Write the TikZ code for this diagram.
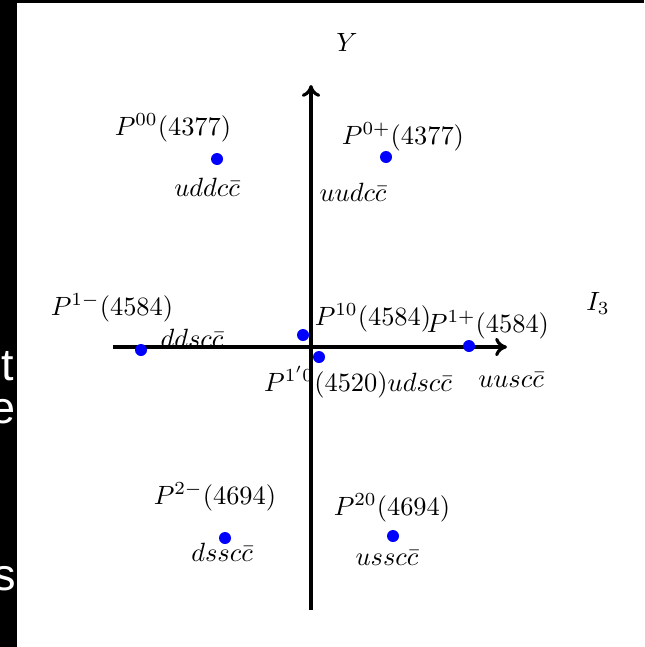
\documentclass[tikz,border=0pt]{standalone}
\usepackage{amsmath}
\usepackage{fontspec}
\newfontfamily\sidefont{Liberation Sans}
\usetikzlibrary{arrows.meta}

\begin{document}
\begin{tikzpicture}[x=0.0133cm, y=-0.0133cm, line join=round, >={To[length=4.5pt,width=7pt]}]
  % ========================================================
  % 0. FRAME: page, black strips and cut-off side text
  % ========================================================
  \useasboundingbox (0,0) rectangle (644,647);
  \fill[white] (0,0) rectangle (644,647);
  \fill[black] (0,0) rectangle (644,3);
  \fill[black] (0,0) rectangle (17,647);
  \begin{scope}
    \clip (0,0) rectangle (17,647);
    \node[anchor=base east, inner sep=0pt, white, font=\sidefont\fontsize{17}{20}\selectfont] (sideT) at (15,380) {t};
    \node[anchor=base east, inner sep=0pt, white, font=\sidefont\fontsize{17}{20}\selectfont] (sideE) at (16,423) {e};
    \node[anchor=base east, inner sep=0pt, white, font=\sidefont\fontsize{17}{20}\selectfont] (sideS) at (16,590) {s};
  \end{scope}

  % ========================================================
  % 1. STATE LABELS (mass and quark content)
  % ========================================================
  \node (L00) at (173,128) {$P^{00}(4377)$};
  \node (Q00) at (207,187) {$uddc\bar{c}$};
  \node (L0p) at (403,137) {$P^{0+}(4377)$};
  \node (Q0p) at (353,192) {$uudc\bar{c}$};

  \node (L1m) at (112,308) {$P^{1-}(4584)$};
  \node (Q1m) at (192,338) {$ddsc\bar{c}$};
  \node (L10) at (373,318) {$P^{10}(4584)$};
  \node (L1p) at (488,325) {$P^{1+}(4584)$};
  \node (Q1p) at (511,380) {$uusc\bar{c}$};
  \node (L1q) at (358,382) {$P^{1'0}(4520)udsc\bar{c}$};

  \node (L2m) at (215,497) {$P^{2-}(4694)$};
  \node (Q2m) at (222,552) {$dssc\bar{c}$};
  \node (L20) at (392,508) {$P^{20}(4694)$};
  \node (Q20) at (387,558) {$ussc\bar{c}$};

  % ========================================================
  % 2. AXES (I_3 horizontal, Y vertical)
  % ========================================================
  \coordinate (Xa) at (113,347);
  \coordinate (Xb) at (507,347);
  \coordinate (Ya) at (311,610);
  \coordinate (Yb) at (311,85);
  \draw[line width=1.2pt, ->] (Xa) -- (Xb);
  \draw[line width=1.2pt, ->] (Ya) -- (Yb);
  \node (LY) at (347,42) {$Y$};
  \node (LI) at (598,303) {$I_3$};

  % ========================================================
  % 3. STATES (blue dots)
  % ========================================================
  \fill[blue] (217,159) circle (6);   % P00
  \fill[blue] (386,157) circle (6);   % P0+
  \fill[blue] (141,350) circle (6);   % P1-
  \fill[blue] (303,335) circle (6);   % P10
  \fill[blue] (319,357) circle (6);   % P1'0
  \fill[blue] (469,346) circle (6);   % P1+
  \fill[blue] (225,538) circle (6);   % P2-
  \fill[blue] (393,536) circle (6);   % P20

\end{tikzpicture}
\end{document}
